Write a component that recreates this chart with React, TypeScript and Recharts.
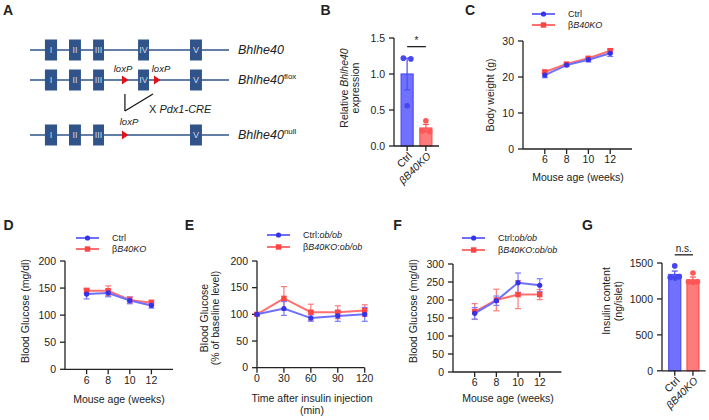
import React from 'react';
import {
  ComposedChart, Line, Bar, Scatter, XAxis, YAxis, ErrorBar,
  ReferenceArea, ReferenceLine, Cell,
} from 'recharts';

const FONT = '"Liberation Sans", Arial, Helvetica, sans-serif';
const INK = '#222';
const BLUE_LINE = '#6f6fff';
const BLUE_DOT = '#3434e6';
const BLUE_ERR = '#7a7aff';
const RED_LINE = '#ff7070';
const RED_DOT = '#ff4444';
const RED_ERR = '#ff7b7b';
const EXON = '#30548a';
const LOXP_RED = '#e3101a';

// ---------- Panel A: gene schematic ----------
const exonNames = ['I', 'II', 'III', 'IV', 'V'];
const exonStart = [7.5, 19.6, 31.7, 54.3, 80.4];
const exonEnd = [13.6, 25.6, 37.2, 59.8, 86.4];
const alleleExons = [[0, 1, 2, 3, 4], [0, 1, 2, 3, 4], [0, 1, 2, 4]];
const loxpSites = [47.7, 63.8];
const alleleLoxp = [[], [0, 1], [0]];

// ---------- Panel B ----------
const bGroups = ['Ctrl', 'βB40KO'];
const bMean = [1.0, 0.25];
const bSem = [0.22, 0.05];
const bCtrlPts = [1.22, 1.21, 0.56];
const bKOPts = [0.35, 0.21, 0.2];

// ---------- Panel C ----------
const ages = [6, 8, 10, 12];
const bwCtrl = [20.5, 23.3, 24.8, 26.6];
const bwCtrlErr = [0.7, 0.4, 0.6, 0.9];
const bwKO = [21.4, 23.6, 25.2, 27.3];
const bwKOErr = [0.5, 0.4, 0.4, 0.6];

// ---------- Panel D ----------
const bgCtrl = [139, 141, 127, 118];
const bgCtrlErr = [9, 7, 6, 5];
const bgKO = [145, 145, 128, 123];
const bgKOErr = [5, 9, 6, 5];

// ---------- Panel E ----------
const times = [0, 30, 60, 90, 120];
const itCtrl = [100, 111, 93, 97, 100];
const itCtrlErr = [2, 13, 6, 10, 13];
const itKO = [100, 130, 104, 104, 107];
const itKOErr = [2, 22, 15, 12, 11];

// ---------- Panel F ----------
const obCtrl = [163, 198, 248, 241];
const obCtrlErr = [16, 13, 27, 18];
const obKO = [168, 200, 215, 215];
const obKOErr = [22, 30, 39, 14];

// ---------- Panel G ----------
const gMean = [1340, 1265];
const gSem = [48, 40];
const gCtrlPts = [1460, 1300, 1290, 1310];
const gKOPts = [1360, 1240, 1230, 1240];

// layout constants (not data)
const ROW_Y = [50, 80, 135];
const EXON_HALF = 10.5;
const JIT3 = [-0.2, 0.2, 0];
const JIT3B = [0, -0.2, 0.2];
const JIT4 = [0, -0.25, 0.02, 0.25];
const BAR_W = 12;

const lineData = (xs: number[], c: number[], ce: number[], k: number[], ke: number[]) =>
  xs.map((x, i) => ({ x, ctrl: c[i], ctrlE: ce[i], ko: k[i], koE: ke[i] }));

const axisCommon: any = {
  stroke: INK,
  strokeWidth: 1.3,
  tickSize: 5,
  tick: { fill: INK, fontSize: 10.5, fontFamily: FONT },
  tickLine: { stroke: INK, strokeWidth: 1.3 },
  axisLine: { stroke: INK, strokeWidth: 1.3 },
};

function geom(L: number, T: number, R: number, B: number, pt = 12, xh = 45) {
  const yw = 40, pr = 12;
  return {
    style: { position: 'absolute' as const, left: L - yw, top: T - pt },
    width: R - L + yw + pr,
    height: B - T + pt + xh,
    margin: { top: pt, right: pr, left: 0, bottom: 0 },
    yw, xh,
  };
}

const Txt = ({ x, y, children, size = 10.5, anchor = 'center', rotate = false, bold = false, italic = false, lh }: any) => {
  const tx = anchor === 'center' ? '-50%' : anchor === 'end' ? '-100%' : '0';
  return (
    <div
      style={{
        position: 'absolute', left: x, top: y,
        transform: `translate(${rotate ? '-50%' : tx},-50%)${rotate ? ' rotate(-90deg)' : ''}`,
        fontSize: size, fontWeight: bold ? 700 : 400, fontStyle: italic ? 'italic' : 'normal',
        whiteSpace: 'nowrap', textAlign: 'center', lineHeight: lh ? `${lh}px` : 'normal',
        fontFamily: FONT, color: INK,
      }}
    >
      {children}
    </div>
  );
};

const LegendItem = ({ x1, x2, y, line, dot, square, tx, children }: any) => {
  const w = x2 - x1;
  return (
    <>
      <svg style={{ position: 'absolute', left: x1, top: y - 4 }} width={w} height={8}>
        <line x1={0} y1={4} x2={w} y2={4} stroke={line} strokeWidth={2} />
        {square ? (
          <rect x={w / 2 - 2.7} y={1.3} width={5.4} height={5.4} fill={dot} />
        ) : (
          <circle cx={w / 2} cy={4} r={2.6} fill={dot} />
        )}
      </svg>
      <Txt x={tx} y={y} size={9} anchor="start">{children}</Txt>
    </>
  );
};

const circleDot = (color: string, r = 2.6) => (p: any) =>
  <circle key={`c${p.index}-${p.cx}`} cx={p.cx} cy={p.cy} r={r} fill={color} stroke="none" />;
const squareDot = (color: string) => (p: any) =>
  <rect key={`s${p.index}-${p.cx}`} x={p.cx - 2.7} y={p.cy - 2.7} width={5.4} height={5.4} fill={color} stroke="none" />;

const triangleShape = (p: any) => (
  <polygon points={`${p.cx - 3},${p.cy - 4.5} ${p.cx + 3.5},${p.cy} ${p.cx - 3},${p.cy + 4.5}`} fill={LOXP_RED} />
);

// bar drawn centred on the library's bar position, with a fixed visual width
const barShape = (p: any) => {
  const cx = p.x + p.width / 2;
  return (
    <rect x={cx - BAR_W / 2} y={p.y} width={BAR_W} height={p.height}
      fill={p.fill} stroke={p.stroke} strokeWidth={1.2} />
  );
};

function LinePanel({ g, data, xDomain, xTicks, yDomain, yTicks }: any) {
  return (
    <div style={g.style}>
      <ComposedChart width={g.width} height={g.height} margin={g.margin} data={data}>
        <XAxis dataKey="x" type="number" domain={xDomain} ticks={xTicks} interval={0} height={g.xh} {...axisCommon} />
        <YAxis type="number" domain={yDomain} ticks={yTicks} interval={0} width={g.yw} tickMargin={4} {...axisCommon} />
        <Line dataKey="ko" stroke={RED_LINE} strokeWidth={2} dot={squareDot(RED_DOT)} activeDot={false} isAnimationActive={false}>
          <ErrorBar dataKey="koE" width={3} stroke={RED_ERR} strokeWidth={1.2} direction="y" />
        </Line>
        <Line dataKey="ctrl" stroke={BLUE_LINE} strokeWidth={2} dot={circleDot(BLUE_DOT)} activeDot={false} isAnimationActive={false}>
          <ErrorBar dataKey="ctrlE" width={3} stroke={BLUE_ERR} strokeWidth={1.2} direction="y" />
        </Line>
      </ComposedChart>
    </div>
  );
}

const RotTick = (props: any) => {
  const { x, y, payload } = props;
  const name = bGroups[payload.value - 1];
  const italic = payload.value === 2;
  return (
    <g transform={`translate(${x + 3},${y + 1})`}>
      <text x={0} y={0} dy="0.35em" textAnchor="end" transform="rotate(-45)" fontSize={10.5}
        fill={INK} fontFamily={FONT} fontStyle={italic ? 'italic' : 'normal'}>{name}</text>
    </g>
  );
};

function BarPanel({ g, mean, sem, ctrlPts, koPts, jitC, jitK, yDomain, yTicks, fmt, sigY, sigLabel }: any) {
  const data = [
    { x: 1, v: mean[0], ctrlE: sem[0] },
    { x: 2, v: mean[1], koE: sem[1] },
  ];
  const cPts = ctrlPts.map((v: number, i: number) => ({ x: 1 + jitC[i], v }));
  const kPts = koPts.map((v: number, i: number) => ({ x: 2 + jitK[i], v }));
  return (
    <div style={g.style}>
      <ComposedChart width={g.width} height={g.height} margin={g.margin} data={data}>
        <XAxis dataKey="x" type="number" domain={[0.3, 2.7]} ticks={[1, 2]} interval={0} height={g.xh} {...axisCommon} tick={<RotTick />} />
        <YAxis type="number" domain={yDomain} ticks={yTicks} interval={0} width={g.yw} tickMargin={4} tickFormatter={fmt} {...axisCommon} />
        <Bar dataKey="v" shape={barShape} isAnimationActive={false}>
          <Cell fill="#7171ff" stroke="#4d4df5" />
          <Cell fill="#ff7a7a" stroke="#ff5252" />
          <ErrorBar dataKey="ctrlE" width={3} stroke="#4d4df5" strokeWidth={1.2} direction="y" />
          <ErrorBar dataKey="koE" width={3} stroke="#ff5252" strokeWidth={1.2} direction="y" />
        </Bar>
        <Scatter data={cPts} dataKey="v" shape={circleDot('#4646f2', 2.8)} isAnimationActive={false} />
        <Scatter data={kPts} dataKey="v" shape={circleDot('#ff5656', 2.8)} isAnimationActive={false} />
        <ReferenceLine segment={[{ x: 1, y: sigY }, { x: 2, y: sigY }]} stroke={INK} strokeWidth={1.3} ifOverflow="visible"
          label={{ value: sigLabel, position: 'top', fill: INK, fontSize: 10, fontFamily: FONT, offset: 3 }} />
      </ComposedChart>
    </div>
  );
}

export default function App() {
  const gA = { width: 340, height: 190, margin: { top: 0, right: 111, left: 30, bottom: 0 } };
  const loxpData: any[] = [];
  alleleLoxp.forEach((sites, r) => sites.forEach((s) => loxpData.push({ x: loxpSites[s], y: ROW_Y[r] })));

  const gB = geom(394, 38, 439, 146);
  const gC = geom(523, 40.7, 632, 148.7);
  const gD = geom(65, 260.7, 173, 369);
  const gE = geom(257.3, 261, 365, 367.7);
  const gF = geom(453.3, 264, 561.7, 372);
  const gG = geom(662.3, 262.7, 706, 370.5, 26);

  const koLabel = <>β<i>B40KO</i></>;

  return (
    <div style={{ position: 'absolute', left: 0, top: 0, width: 709, height: 420, background: '#fff', overflow: 'hidden', fontFamily: FONT, color: INK }}>
      {/* Panel letters */}
      <Txt x={8} y={10} size={14} bold>A</Txt>
      <Txt x={325.5} y={10} size={14} bold>B</Txt>
      <Txt x={470} y={10} size={14} bold>C</Txt>
      <Txt x={8.5} y={225} size={14} bold>D</Txt>
      <Txt x={189.5} y={225} size={14} bold>E</Txt>
      <Txt x={397.5} y={225} size={14} bold>F</Txt>
      <Txt x={587.5} y={225} size={14} bold>G</Txt>

      {/* Panel A */}
      <div style={{ position: 'absolute', left: 0, top: 0 }}>
        <ComposedChart width={gA.width} height={gA.height} margin={gA.margin} data={loxpData}>
          <XAxis dataKey="x" type="number" domain={[0, 100]} hide />
          <YAxis dataKey="y" type="number" domain={[0, 190]} reversed hide />
          {ROW_Y.map((ry, r) => (
            <ReferenceLine key={`ln${r}`} segment={[{ x: 0, y: ry }, { x: 100, y: ry }]} stroke={EXON} strokeWidth={1.6} />
          ))}
          {alleleExons.map((ex, r) =>
            ex.map((e) => (
              <ReferenceArea key={`ex${r}-${e}`} x1={exonStart[e]} x2={exonEnd[e]} y1={ROW_Y[r] - EXON_HALF} y2={ROW_Y[r] + EXON_HALF}
                fill={EXON} fillOpacity={1} stroke="none"
                label={{ value: exonNames[e], fill: '#cdd6e8', fontSize: 9, fontFamily: FONT, position: 'center' }} />
            ))
          )}
          <ReferenceLine segment={[{ x: loxpSites[0], y: 94 }, { x: loxpSites[0], y: 111 }]} stroke="#111" strokeWidth={1.2} />
          <ReferenceLine segment={[{ x: loxpSites[0], y: 111 }, { x: 61.8, y: 94 }]} stroke="#111" strokeWidth={1.2} />
          <Scatter data={loxpData} dataKey="y" shape={triangleShape} isAnimationActive={false} />
        </ComposedChart>
      </div>
      <Txt x={238} y={50} size={12.5} anchor="start" italic>Bhlhe40</Txt>
      <Txt x={238} y={80} size={12.5} anchor="start" italic>Bhlhe40<span style={{ fontSize: 8, fontStyle: 'normal', position: 'relative', top: -5 }}>flox</span></Txt>
      <Txt x={238} y={135} size={12.5} anchor="start" italic>Bhlhe40<span style={{ fontSize: 8, fontStyle: 'normal', position: 'relative', top: -5 }}>null</span></Txt>
      <Txt x={123} y={68.3} size={9.5} italic>loxP</Txt>
      <Txt x={161} y={68.3} size={9.5} italic>loxP</Txt>
      <Txt x={129} y={120.7} size={9.5} italic>loxP</Txt>
      <Txt x={149} y={109} size={11} anchor="start">X <i>Pdx1-CRE</i></Txt>

      {/* Panel B */}
      <BarPanel g={gB} mean={bMean} sem={bSem} ctrlPts={bCtrlPts} koPts={bKOPts} jitC={JIT3} jitK={JIT3B}
        yDomain={[0, 1.5]} yTicks={[0, 0.5, 1.0, 1.5]} fmt={(v: number) => v.toFixed(1)} sigY={1.38} sigLabel="*" />
      <Txt x={350} y={88} size={10.5} rotate lh={11}>Relative <i>Bhlhe40</i><br />expression</Txt>

      {/* Panel C */}
      <LegendItem x1={532} x2={555} y={14} line={BLUE_LINE} dot={BLUE_DOT} tx={568}>Ctrl</LegendItem>
      <LegendItem x1={532} x2={555} y={24.5} line={RED_LINE} dot={RED_DOT} square tx={568}>{koLabel}</LegendItem>
      <LinePanel g={gC} data={lineData(ages, bwCtrl, bwCtrlErr, bwKO, bwKOErr)} xDomain={[4, 14]} xTicks={ages}
        yDomain={[0, 30]} yTicks={[0, 10, 20, 30]} />
      <Txt x={490} y={95} size={10.5} rotate>Body weight (g)</Txt>
      <Txt x={578} y={176.7} size={10.5}>Mouse age (weeks)</Txt>

      {/* Panel D */}
      <LegendItem x1={76} x2={99} y={237.7} line={BLUE_LINE} dot={BLUE_DOT} tx={112}>Ctrl</LegendItem>
      <LegendItem x1={76} x2={99} y={249.3} line={RED_LINE} dot={RED_DOT} square tx={112}>{koLabel}</LegendItem>
      <LinePanel g={gD} data={lineData(ages, bgCtrl, bgCtrlErr, bgKO, bgKOErr)} xDomain={[4, 14]} xTicks={ages}
        yDomain={[0, 200]} yTicks={[0, 50, 100, 150, 200]} />
      <Txt x={25} y={311} size={10.5} rotate>Blood Glucose (mg/dl)</Txt>
      <Txt x={119} y={399.3} size={10.5}>Mouse age (weeks)</Txt>

      {/* Panel E */}
      <LegendItem x1={267} x2={290} y={235} line={BLUE_LINE} dot={BLUE_DOT} tx={303}>Ctrl:<i>ob/ob</i></LegendItem>
      <LegendItem x1={267} x2={290} y={247} line={RED_LINE} dot={RED_DOT} square tx={303}>β<i>B40KO</i>:<i>ob/ob</i></LegendItem>
      <LinePanel g={gE} data={lineData(times, itCtrl, itCtrlErr, itKO, itKOErr)} xDomain={[0, 120]} xTicks={times}
        yDomain={[0, 200]} yTicks={[0, 50, 100, 150, 200]} />
      <Txt x={210} y={318} size={10.5} rotate lh={11}>Blood Glucose<br />(% of baseline level)</Txt>
      <Txt x={312} y={405} size={10.5} lh={11.7}>Time after insulin injection<br />(min)</Txt>

      {/* Panel F */}
      <LegendItem x1={461.7} x2={485} y={238.3} line={BLUE_LINE} dot={BLUE_DOT} tx={498}>Ctrl:<i>ob/ob</i></LegendItem>
      <LegendItem x1={461.7} x2={485} y={250} line={RED_LINE} dot={RED_DOT} square tx={498}>β<i>B40KO</i>:<i>ob/ob</i></LegendItem>
      <LinePanel g={gF} data={lineData(ages, obCtrl, obCtrlErr, obKO, obKOErr)} xDomain={[4, 14]} xTicks={ages}
        yDomain={[0, 300]} yTicks={[0, 50, 100, 150, 200, 250, 300]} />
      <Txt x={413} y={311} size={10.5} rotate>Blood Glucose (mg/dl)</Txt>
      <Txt x={508} y={398.3} size={10.5}>Mouse age (weeks)</Txt>

      {/* Panel G */}
      <BarPanel g={gG} mean={gMean} sem={gSem} ctrlPts={gCtrlPts} koPts={gKOPts} jitC={JIT4} jitK={JIT4}
        yDomain={[0, 1500]} yTicks={[0, 500, 1000, 1500]} fmt={(v: number) => String(v)} sigY={1614} sigLabel="n.s." />
      <Txt x={612.5} y={301} size={10.5} rotate lh={11.6}>Insulin content<br />(ng/islet)</Txt>
    </div>
  );
}
